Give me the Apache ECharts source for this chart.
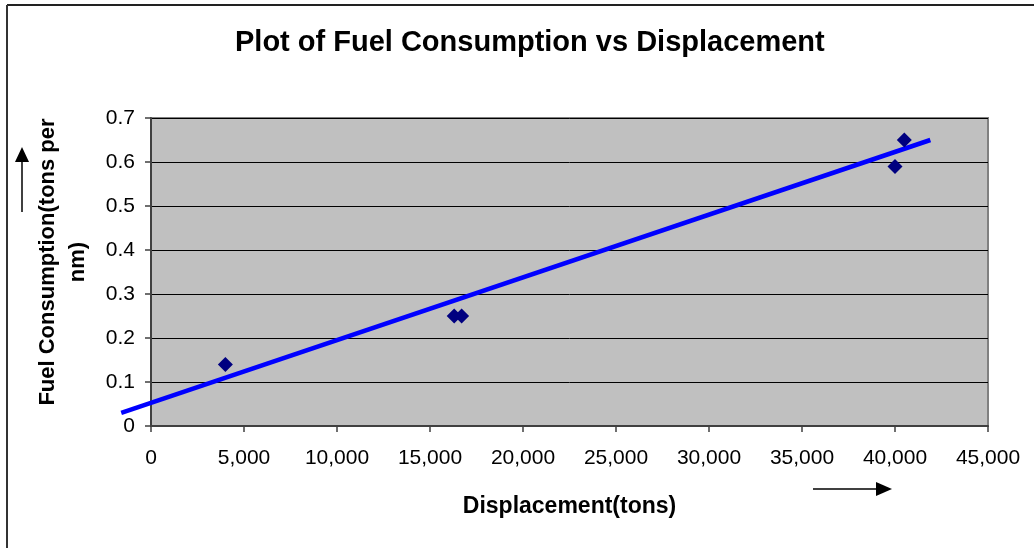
<!DOCTYPE html>
<html lang="en">
  <head>
    <meta charset="UTF-8" />
    <title>Plot of Fuel Consumption vs Displacement</title>
    <script src="https://cdn.jsdelivr.net/npm/echarts@6/dist/echarts.min.js"></script>
    <style>
      html, body { margin: 0; padding: 0; background: #fff; }
      #chart { width: 1034px; height: 548px; }
    </style>
  </head>
  <body>
    <div id="chart"></div>
  </body>
</html>
<script>
  // data
  const displacement = [4000, 16300, 16700, 40000, 40500];
  const fuel = [0.14, 0.25, 0.25, 0.59, 0.65];
  // trendline end points (Excel linear trend, backward forecast past 0)
  const trendX = [-1600, 41900];
  const trendY = [0.03, 0.65];

  const chart = echarts.init(document.getElementById("chart"));
  const font = "Arial, 'Liberation Sans', sans-serif";

  let option = {
    animation: false,
    textStyle: { fontFamily: font, color: "#000" },
    title: {
      text: "Plot of Fuel Consumption vs Displacement",
      left: 230,
      top: 23,
      textStyle: { fontFamily: font, fontSize: 29, fontWeight: "bold", color: "#000" },
    },
    grid: {
      left: 151,
      top: 118,
      right: 46,
      bottom: 122,
      show: true,
      backgroundColor: "#C0C0C0",
      borderColor: "#808080",
      borderWidth: 2,
    },
    xAxis: {
      type: "value",
      min: 0,
      max: 45000,
      interval: 5000,
      name: "Displacement(tons)",
      nameLocation: "middle",
      nameGap: 69,
      nameTextStyle: { fontFamily: font, fontSize: 23, fontWeight: "bold", color: "#000" },
      axisLine: { show: true, lineStyle: { color: "#404040", width: 2 } },
      axisTick: { show: true, length: 6, lineStyle: { color: "#404040", width: 1.5 } },
      axisLabel: {
        margin: 22,
        fontSize: 21,
        color: "#000",
        formatter: (v) => v.toLocaleString("en-US"),
      },
      splitLine: { show: false },
    },
    yAxis: {
      type: "value",
      min: 0,
      max: 0.7,
      interval: 0.1,
      name: "Fuel Consumption(tons per\nnm)",
      nameLocation: "middle",
      nameRotate: 90,
      nameGap: 58,
      nameTextStyle: {
        fontFamily: font, fontSize: 22, fontWeight: "bold", color: "#000",
        align: "center", lineHeight: 30, padding: [0, 0, 0, 20],
      },
      axisLine: { show: true, lineStyle: { color: "#404040", width: 2 } },
      axisTick: { show: true, length: 6, lineStyle: { color: "#404040", width: 1.5 } },
      axisLabel: {
        margin: 16,
        fontSize: 21,
        color: "#000",
        formatter: (v) => (v === 0 ? "0" : v.toFixed(1)),
      },
      splitLine: { show: true, lineStyle: { color: "#000", width: 1 } },
    },
    graphic: [
      // frame of the chart area (top and left edges visible)
      { type: "line", shape: { x1: 7, y1: 5, x2: 1034, y2: 5 }, style: { stroke: "#222", lineWidth: 2 } },
      { type: "line", shape: { x1: 7, y1: 5, x2: 7, y2: 548 }, style: { stroke: "#333", lineWidth: 2 } },
      // arrow next to the y axis name
      { type: "line", shape: { x1: 22, y1: 212, x2: 22, y2: 160 }, style: { stroke: "#000", lineWidth: 1.5 } },
      { type: "polygon", shape: { points: [[15, 162], [29, 162], [22, 147]] }, style: { fill: "#000" } },
      // arrow next to the x axis name
      { type: "line", shape: { x1: 813, y1: 489, x2: 878, y2: 489 }, style: { stroke: "#000", lineWidth: 1.5 } },
      { type: "polygon", shape: { points: [[876, 482], [876, 496], [892, 489]] }, style: { fill: "#000" } },
    ],
    series: [
      {
        // trendline drawn unclipped so it runs past x = 0 like the Excel one
        type: "custom",
        clip: false,
        data: trendX.map((x, i) => [x, trendY[i]]),
        renderItem: (params, api) => {
          if (params.dataIndex !== 0) return null;
          const a = api.coord([trendX[0], trendY[0]]);
          const b = api.coord([trendX[1], trendY[1]]);
          return {
            type: "line",
            shape: { x1: a[0], y1: a[1], x2: b[0], y2: b[1] },
            style: { stroke: "#0000FF", lineWidth: 4.5 },
          };
        },
        z: 3,
      },
      {
        type: "scatter",
        data: displacement.map((x, i) => [x, fuel[i]]),
        symbol: "diamond",
        symbolSize: 15,
        itemStyle: { color: "#000080", opacity: 1 },
        z: 4,
      },
    ],
  };
  chart.setOption(option);
</script>
